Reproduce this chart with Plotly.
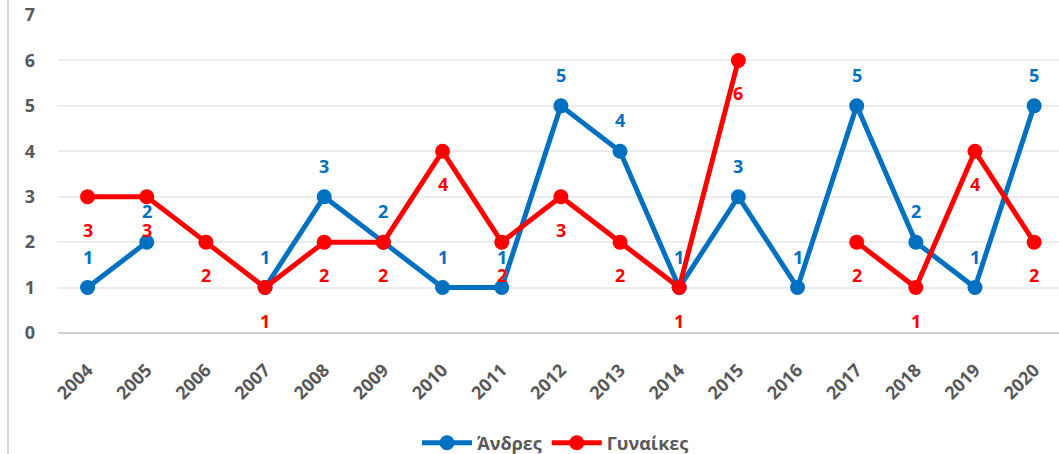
import plotly.graph_objects as go

years = [str(y) for y in range(2004, 2021)]
andres = [1, 2, None, 1, 3, 2, 1, 1, 5, 4, 1, 3, 1, 5, 2, 1, 5]
gynaikes = [3, 3, 2, 1, 2, 2, 4, 2, 3, 2, 1, 6, None, 2, 1, 4, 2]
yticks = [0, 1, 2, 3, 4, 5, 6, 7]

BLUE = "#0070C0"
RED = "#FF0000"
GRAY = "#595959"
FONT = "Open Sans"

idx = list(range(len(years)))

fig = go.Figure()
fig.add_trace(go.Scatter(x=idx, y=andres, name="<b>Άνδρες</b>", mode="lines+markers",
                         line=dict(color=BLUE, width=5), marker=dict(size=15, color=BLUE)))
fig.add_trace(go.Scatter(x=idx, y=gynaikes, name="<b>Γυναίκες</b>", mode="lines+markers",
                         line=dict(color=RED, width=5), marker=dict(size=15, color=RED)))

ann = []
for i, v in zip(idx, andres):
    if v is not None:
        ann.append(dict(x=i, y=v, xref="x", yref="y", text=f"<b>{v}</b>", showarrow=False,
                        yshift=31, font=dict(color=BLUE, size=18, family=FONT)))
for i, v in zip(idx, gynaikes):
    if v is not None:
        ann.append(dict(x=i, y=v, xref="x", yref="y", text=f"<b>{v}</b>", showarrow=False,
                        yshift=-33, font=dict(color=RED, size=18, family=FONT)))

W, H = 1059, 454
L, T, B = 58, 15, 121
PW, PH = W - L, H - T - B

fig.update_layout(
    width=W, height=H,
    margin=dict(l=L, r=0, t=T, b=B, autoexpand=False),
    plot_bgcolor="white", paper_bgcolor="white",
    font=dict(family=FONT, color=GRAY, size=18),
    annotations=ann,
    showlegend=True,
    legend=dict(orientation="h", x=0.497, xanchor="center", y=-110 / PH, yanchor="middle",
                font=dict(size=18, color=GRAY, family=FONT), itemwidth=50),
    shapes=[dict(type="line", xref="paper", yref="paper", x0=-(L - 8) / PW, x1=-(L - 8) / PW,
                 y0=-B / PH, y1=1 + T / PH, line=dict(color="#d9d9d9", width=2))],
)
fig.update_xaxes(range=[-0.5, 16.42], tickvals=idx, ticktext=[f"<b>{y}</b>" for y in years],
                 tickangle=-45, showgrid=False, automargin=False,
                 tickfont=dict(size=18, color=GRAY, family=FONT),
                 ticklabelstandoff=22, showline=False, zeroline=False)
fig.update_yaxes(range=[0, 7], tickvals=yticks, ticktext=[f"<b>{t}</b>" for t in yticks],
                 showgrid=True, gridcolor="#ececec", gridwidth=2, automargin=False,
                 zeroline=True, zerolinecolor="#d0d0d0", zerolinewidth=2,
                 tickfont=dict(size=18, color=GRAY, family=FONT),
                 ticklabelstandoff=22)

fig.write_html("out.html", config={"displayModeBar": False},
               post_script="document.body.style.margin='0px';")
